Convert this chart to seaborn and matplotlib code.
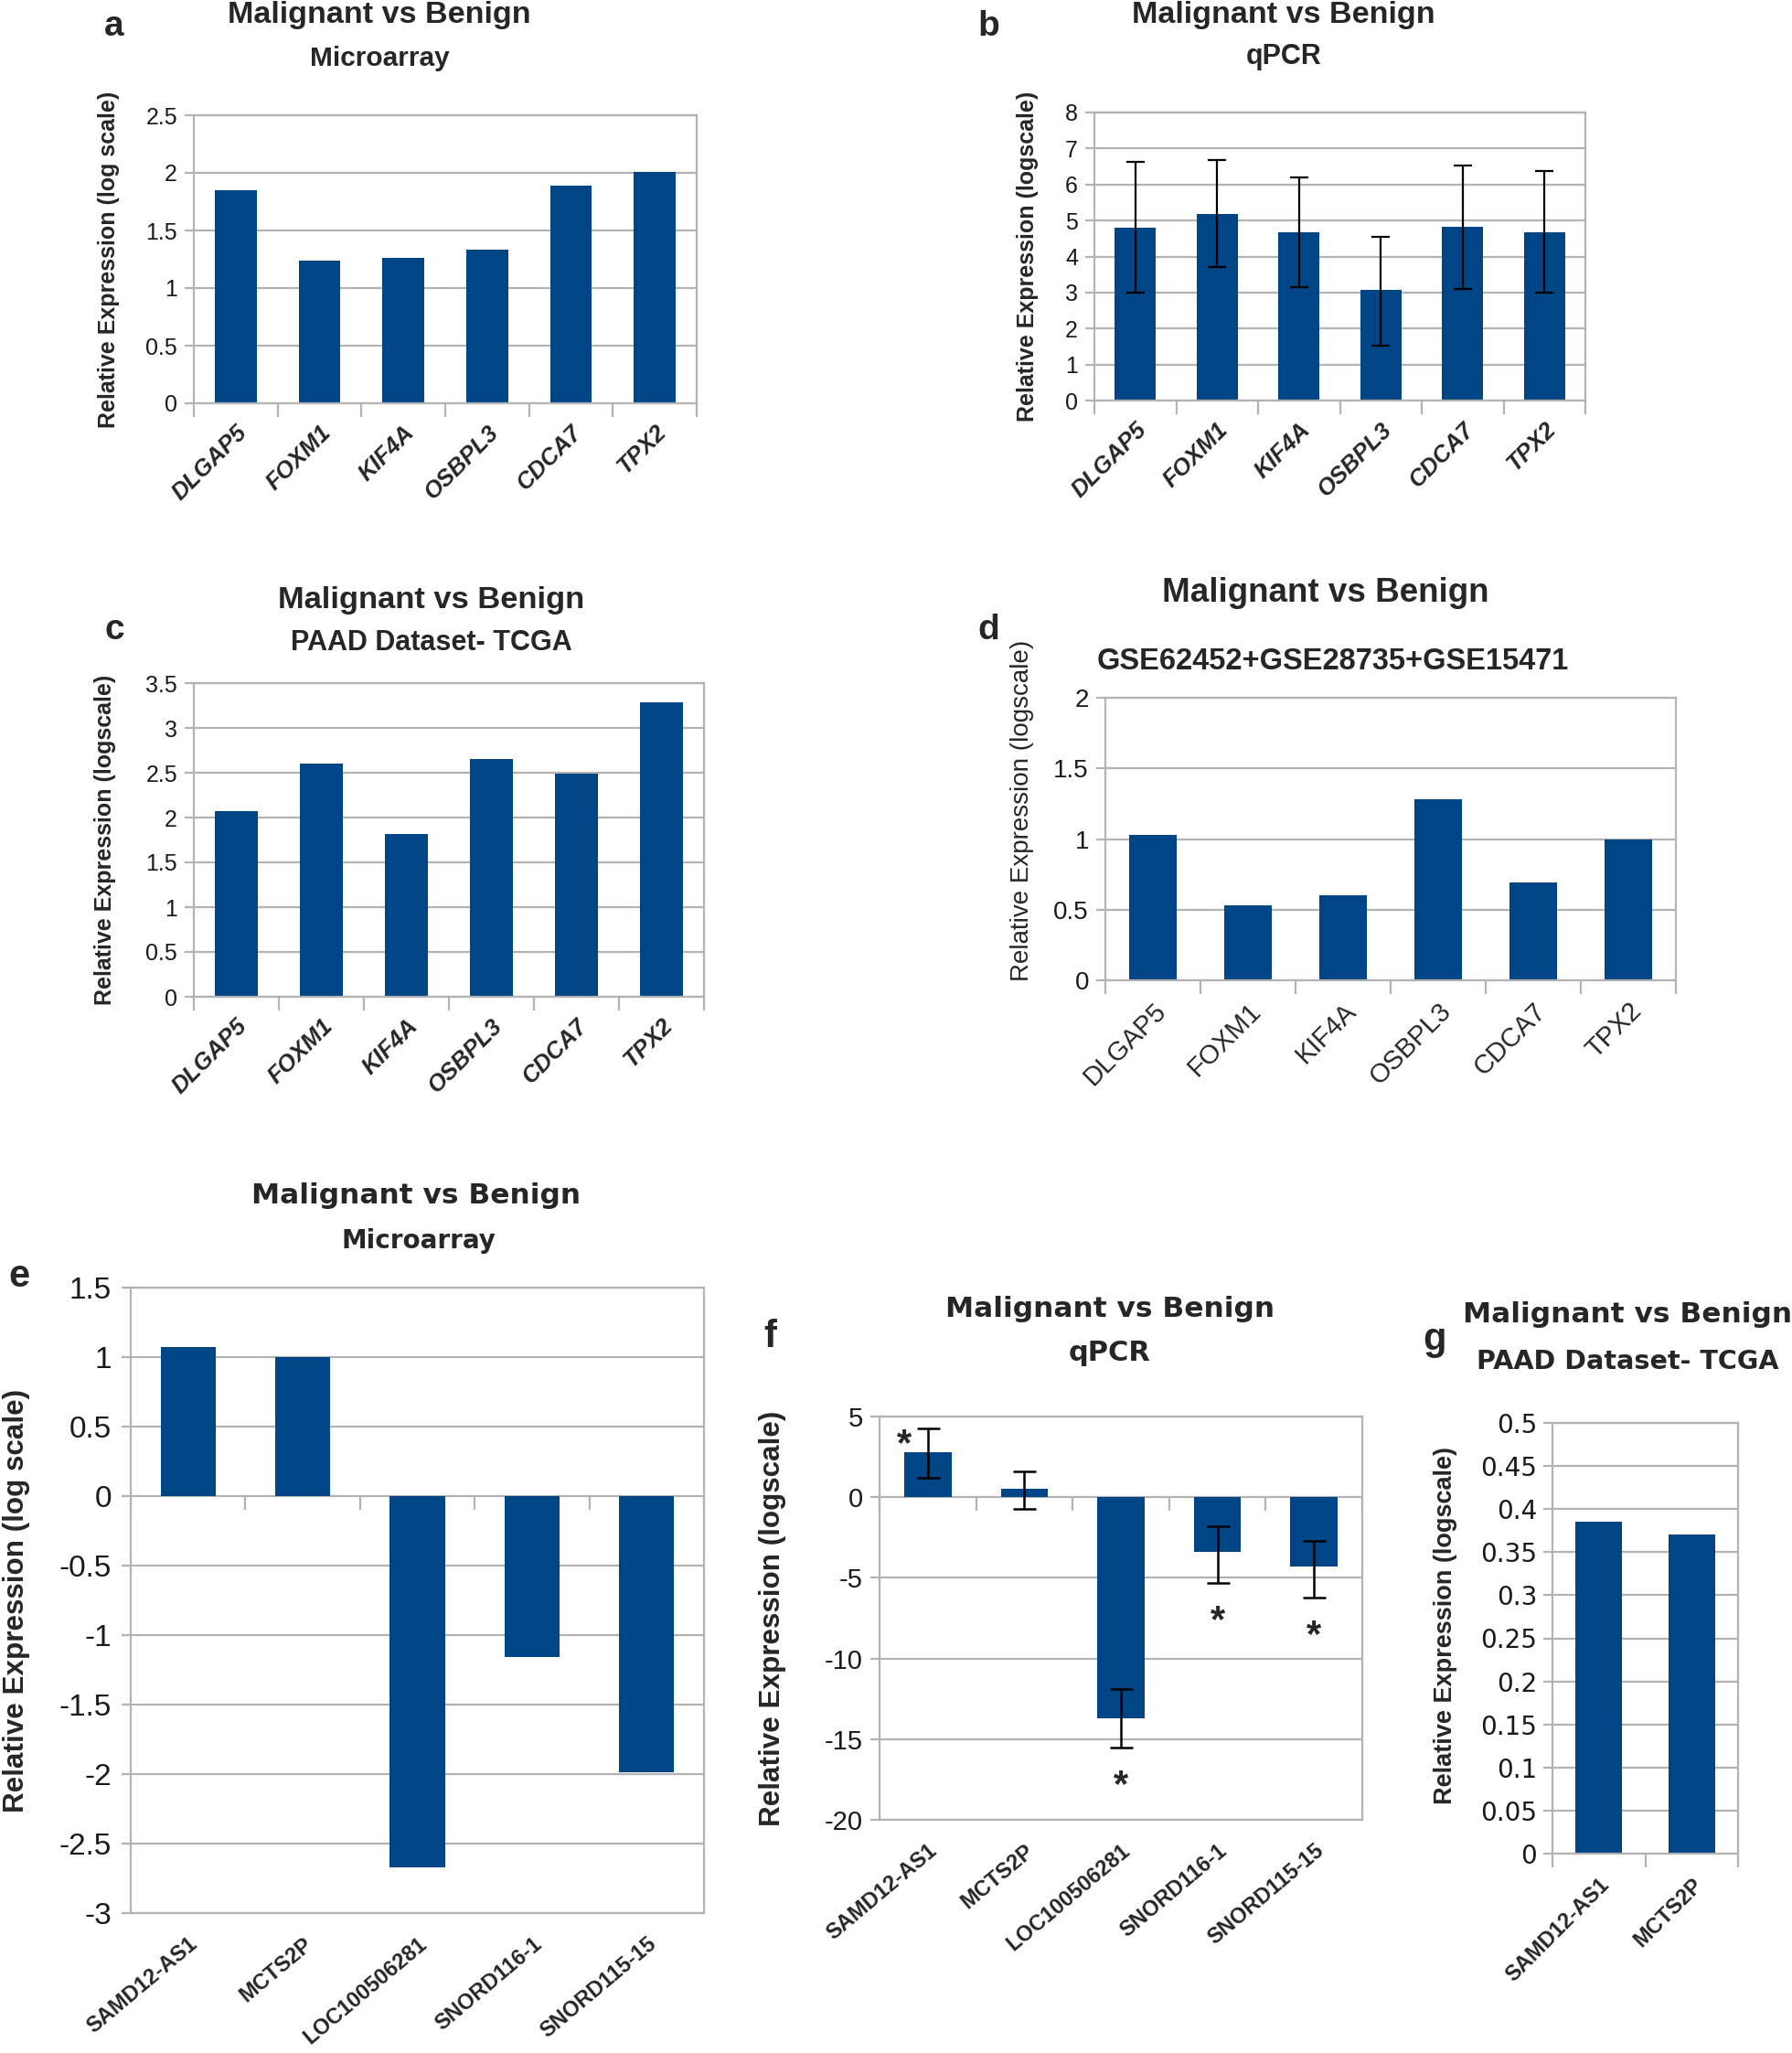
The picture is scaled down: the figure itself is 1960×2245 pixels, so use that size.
import numpy as np
import matplotlib
matplotlib.use("Agg")
import matplotlib.pyplot as plt
from matplotlib.ticker import FuncFormatter
import seaborn as sns

# panels a-d: the six mRNA genes
genes = ["DLGAP5", "FOXM1", "KIF4A", "OSBPL3", "CDCA7", "TPX2"]
micro_a = [1.85, 1.24, 1.26, 1.33, 1.89, 2.01]
qpcr_b = [4.80, 5.18, 4.68, 3.07, 4.82, 4.68]
qpcr_b_lo = [3.00, 3.70, 3.15, 1.52, 3.10, 3.00]
qpcr_b_hi = [6.63, 6.68, 6.20, 4.55, 6.52, 6.37]
tcga_c = [2.07, 2.60, 1.82, 2.65, 2.49, 3.29]
geo_d = [1.03, 0.53, 0.60, 1.28, 0.69, 1.00]

# panels e-g: lncRNAs
lnc = ["SAMD12-AS1", "MCTS2P", "LOC100506281", "SNORD116-1", "SNORD115-15"]
micro_e = [1.07, 1.00, -2.67, -1.16, -1.99]
qpcr_f = [2.80, 0.50, -13.70, -3.40, -4.30]
qpcr_f_lo = [1.20, -0.75, -15.50, -5.30, -6.20]
qpcr_f_hi = [4.25, 1.60, -11.90, -1.80, -2.70]
signif_f = [True, False, True, True, True]
lnc_g = ["SAMD12-AS1", "MCTS2P"]
tcga_g = [0.385, 0.370]

BLUE = "#004586"
GRID = "#b3b3b3"
W, H = 1960, 2245

sns.set_style("white")
plt.rcParams["font.family"] = ["Liberation Sans", "DejaVu Sans"]

fig = plt.figure(figsize=(W / 100, H / 100), dpi=100)


def add_ax(l, t, r, b):
    return fig.add_axes([l / W, 1 - b / H, (r - l) / W, (b - t) / H])


def put(x, y, s, **kw):
    fig.text(x / W, 1 - y / H, s, ha="center", va="center", **kw)


def bar_panel(ax, names, vals, ylim, step, width=0.5, tsize=17, tfam="Liberation Sans", tpad=4):
    sns.barplot(x=names, y=vals, ax=ax, color=BLUE, saturation=1,
                width=width, errorbar=None, linewidth=0)
    n = len(names)
    ax.set_xlim(-0.5, n - 0.5)
    ax.set_ylim(*ylim)
    ax.set_yticks(np.arange(ylim[0], ylim[1] + step / 2, step))
    ax.yaxis.set_major_formatter(FuncFormatter(lambda v, p: f"{v:g}"))
    ax.yaxis.grid(True, color=GRID, lw=1.6)
    ax.set_axisbelow(True)
    for s in ax.spines.values():
        s.set_color(GRID)
        s.set_linewidth(1.6)
    ax.tick_params(axis="y", length=7, width=1.6, color=GRID, pad=tpad,
                   labelsize=tsize, labelcolor="#1a1a1a", left=True)
    for t in ax.get_yticklabels():
        t.set_family(tfam)
    ax.set_xticks(np.arange(-0.5, n), minor=True)
    ax.tick_params(axis="x", which="major", length=0)
    ax.tick_params(axis="x", which="minor", length=11, width=1.6, color=GRID, bottom=True)
    return ax


def xlabels(ax, names, rot, size, weight="bold", style="normal", pad=14, fam="Liberation Sans"):
    ax.set_xticks(range(len(names)))
    ax.set_xticklabels(names, rotation=rot, ha="right", rotation_mode="anchor",
                       fontsize=size, fontweight=weight, fontstyle=style, family=fam)
    ax.tick_params(axis="x", which="major", pad=pad)


def ylab(ax, text, x_px, y_frac, box, size, weight="bold", fam="Liberation Sans"):
    l, r = box
    ax.set_ylabel(text, fontsize=size, fontweight=weight, family=fam)
    ax.yaxis.label.set_va("center")
    ax.yaxis.set_label_coords((x_px - l) / (r - l), y_frac)


def zero_ticks(ax, n, ylim):
    loc = (0 - ylim[0]) / (ylim[1] - ylim[0])
    sec = ax.secondary_xaxis(loc)
    sec.set_alignment("bottom")
    sec.set_xticks(np.arange(-0.5, n))
    sec.tick_params(axis="x", length=11, width=1.6, color=GRID, labelbottom=False, labeltop=False)
    for s in sec.spines.values():
        s.set_visible(False)
    ax.tick_params(axis="x", which="minor", length=0)


# ---------------- a ----------------
ax = add_ax(212, 126, 762, 441)
bar_panel(ax, genes, micro_a, (0, 2.5), 0.5, width=0.5, tsize=18, tpad=6)
xlabels(ax, genes, 45, 18.5, style="italic")
ylab(ax, "Relative Expression (log scale)", 119, 0.5, (212, 762), 18)
put(415, 17, "Malignant vs Benign", fontsize=24.6, fontweight="bold")
put(415, 64, "Microarray", fontsize=21.5, fontweight="bold")
put(125, 29, "a", fontsize=28, fontweight="bold")

# ---------------- b ----------------
ax = add_ax(1197, 123, 1734, 438)
bar_panel(ax, genes, qpcr_b, (0, 8), 1, width=0.5, tsize=18, tpad=6)
err_lo = np.array(qpcr_b) - np.array(qpcr_b_lo)
err_hi = np.array(qpcr_b_hi) - np.array(qpcr_b)
ax.errorbar(range(len(genes)), qpcr_b, yerr=[err_lo, err_hi], fmt="none",
            ecolor="black", elinewidth=1.6, capsize=7, capthick=1.6)
xlabels(ax, genes, 45, 18.5, style="italic")
ylab(ax, "Relative Expression (logscale)", 1124, 0.5, (1197, 1734), 18)
put(1404, 16, "Malignant vs Benign", fontsize=24.6, fontweight="bold")
put(1404, 62, "qPCR", fontsize=22, fontweight="bold")
put(1081, 29, "b", fontsize=28, fontweight="bold")

# ---------------- c ----------------
ax = add_ax(212, 747, 770, 1090)
bar_panel(ax, genes, tcga_c, (0, 3.5), 0.5, width=0.5, tsize=18, tpad=6)
xlabels(ax, genes, 45, 18.5, style="italic")
ylab(ax, "Relative Expression (logscale)", 115, 0.5, (212, 770), 18)
put(472, 656, "Malignant vs Benign", fontsize=24.8, fontweight="bold")
put(472, 703, "PAAD Dataset- TCGA", fontsize=22, fontweight="bold")
put(125, 689, "c", fontsize=28, fontweight="bold")

# ---------------- d ----------------
ax = add_ax(1209, 763, 1833, 1072)
bar_panel(ax, genes, geo_d, (0, 2), 0.5, width=0.5, tsize=20, tpad=6)
xlabels(ax, genes, 45, 21, weight="normal")
ylab(ax, "Relative Expression (logscale)", 1118, 0.6, (1209, 1833), 20, weight="normal")
put(1450, 649, "Malignant vs Benign", fontsize=26.5, fontweight="bold")
put(1458, 724, "GSE62452+GSE28735+GSE15471", fontsize=23.5, fontweight="bold")
put(1081, 689, "d", fontsize=28, fontweight="bold")

# ---------------- e ----------------
ylim_e = (-3, 1.5)
ax = add_ax(143, 1408, 770, 2092)
bar_panel(ax, lnc, micro_e, ylim_e, 0.5, width=0.48, tsize=24, tpad=8)
zero_ticks(ax, len(lnc), ylim_e)
xlabels(ax, lnc, 40, 17, pad=16)
ylab(ax, "Relative Expression (log scale)", 18, 0.5, (143, 770), 22.6)
put(455, 1307, "Malignant vs Benign", fontsize=22.5, fontweight="bold", family="DejaVu Sans")
put(458, 1357, "Microarray", fontsize=20, fontweight="bold", family="DejaVu Sans")
put(21, 1396, "e", fontsize=30, fontweight="bold")

# ---------------- f ----------------
ylim_f = (-20, 5)
ax = add_ax(962, 1549, 1490, 1990)
bar_panel(ax, lnc, qpcr_f, ylim_f, 5, width=0.49, tsize=21, tpad=6)
zero_ticks(ax, len(lnc), ylim_f)
f_lo = np.array(qpcr_f) - np.array(qpcr_f_lo)
f_hi = np.array(qpcr_f_hi) - np.array(qpcr_f)
ax.errorbar(range(len(lnc)), qpcr_f, yerr=[f_lo, f_hi], fmt="none",
            ecolor="black", elinewidth=1.8, capsize=9, capthick=1.8)
for i, sig in enumerate(signif_f):
    if not sig:
        continue
    if qpcr_f[i] > 0:
        ax.text(i - 0.24, qpcr_f_hi[i] - 1.0, "*", ha="center", va="center",
                fontsize=30, fontweight="bold")
    else:
        ax.text(i, qpcr_f_lo[i] - 2.4, "*", ha="center", va="center",
                fontsize=30, fontweight="bold")
xlabels(ax, lnc, 40, 17, pad=16)
ylab(ax, "Relative Expression (logscale)", 845, 0.5, (962, 1490), 22.6)
put(1214, 1432, "Malignant vs Benign", fontsize=22.5, fontweight="bold", family="DejaVu Sans")
put(1214, 1480, "qPCR", fontsize=22, fontweight="bold", family="DejaVu Sans")
put(842, 1462, "f", fontsize=30, fontweight="bold")

# ---------------- g ----------------
ax = add_ax(1698, 1556, 1901, 2027)
bar_panel(ax, lnc_g, tcga_g, (0, 0.5), 0.05, width=0.5, tsize=20, tfam="DejaVu Sans", tpad=5)
xlabels(ax, lnc_g, 45, 17, pad=16)
ylab(ax, "Relative Expression (logscale)", 1581, 0.53, (1698, 1901), 19.5)
put(1780, 1437, "Malignant vs Benign", fontsize=22.5, fontweight="bold", family="DejaVu Sans")
put(1780, 1489, "PAAD Dataset- TCGA", fontsize=20.6, fontweight="bold", family="DejaVu Sans")
put(1569, 1465, "g", fontsize=30, fontweight="bold")

fig.savefig("out.png", dpi=100, facecolor="white")
